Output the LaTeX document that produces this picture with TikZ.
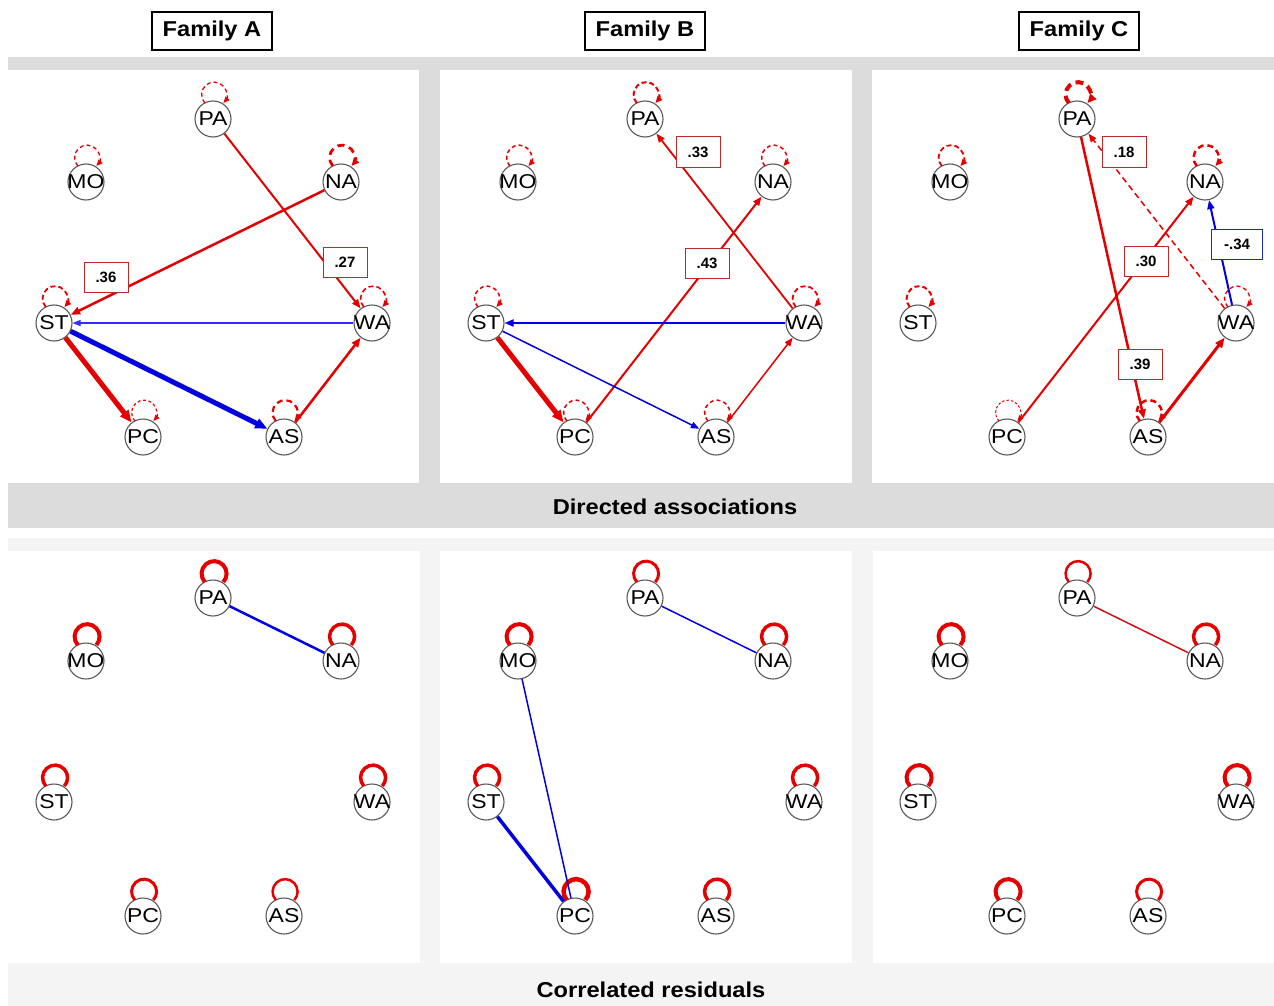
\documentclass[tikz,border=0pt]{standalone}
\usepackage{fontspec}
\setmainfont{Liberation Sans}
\usetikzlibrary{arrows.meta}
\definecolor{ered}{RGB}{228,0,0}
\definecolor{eblue}{RGB}{0,0,225}
\definecolor{lblue}{RGB}{45,45,255}
\definecolor{labred}{RGB}{190,40,40}
\definecolor{labblue}{RGB}{30,40,190}
\definecolor{topgray}{RGB}{220,220,220}
\definecolor{botgray}{RGB}{244,244,244}
\definecolor{cired}{RGB}{200,20,20}
\newcommand{\vlab}[1]{\makebox[0pt]{\scalebox{1.15}[1]{#1}}}
\newcommand{\wtxt}[1]{\scalebox{1.1}[1]{#1}}
\newcommand{\mknodes}[3]{%
  \begin{scope}[shift={(#2,#3)}]
    \node[vnode] (#1PA) at (205,-49) {\vlab{PA}};
    \node[vnode] (#1MO) at (78,-112) {\vlab{MO}};
    \node[vnode] (#1NA) at (333,-112) {\vlab{NA}};
    \node[vnode] (#1ST) at (46,-253) {\vlab{ST}};
    \node[vnode] (#1WA) at (364,-253) {\vlab{WA}};
    \node[vnode] (#1PC) at (135,-367) {\vlab{PC}};
    \node[vnode] (#1AS) at (276,-367) {\vlab{AS}};
  \end{scope}}
% dashed self-loop with arrow (top panels)
\newcommand{\myTL}[3]{\draw[ered, line width=#2, dash pattern=#3, -{Triangle[length=5pt 1,width=4pt 1]}]
  ([shift={(-8.2,16.0)}]#1.center) arc[start angle=222, end angle=-42, radius=12.5];}
% solid self-loop (bottom panels)
\newcommand{\myBL}[2]{\draw[ered, line width=#2]
  ([shift={(-8.2,16.0)}]#1.center) arc[start angle=222, end angle=-42, radius=12.5];}
\tikzset{
  vnode/.style={circle, draw=black!65, line width=1.1pt, fill=white, minimum size=36pt,
    inner sep=0pt, font=\fontsize{20}{20}\selectfont},
  darr/.style={line width=#1, -{Triangle[length=7pt 1, width=5pt 1]}},
  lab/.style={draw=labred, fill=white, line width=1pt, minimum width=44pt, minimum height=30pt,
    inner sep=0pt, font=\fontsize{15}{15}\selectfont\bfseries},
  labb/.style={lab, draw=labblue, minimum width=51pt},
  titlebox/.style={draw=black, fill=white, line width=1.3pt, minimum width=120pt, minimum height=38pt,
    inner sep=0pt, font=\fontsize{21.5}{21.5}\selectfont\bfseries},
  sect/.style={font=\fontsize{21.5}{21.5}\selectfont\bfseries, inner sep=0pt},
}
\begin{document}
\begin{tikzpicture}[x=1pt,y=1pt]
\useasboundingbox (0,0) rectangle (1274,-1006);
\fill[white] (0,0) rectangle (1274,-1006);
% backgrounds
\fill[topgray] (8,-57) rectangle (1274,-528);
\fill[white] (8,-70) rectangle (419,-483);
\fill[white] (440,-70) rectangle (852,-483);
\fill[white] (872,-70) rectangle (1274,-483);
\fill[botgray] (8,-538) rectangle (1274,-1006);
\fill[white] (8,-551) rectangle (420,-963);
\fill[white] (440,-551) rectangle (852,-963);
\fill[white] (873,-551) rectangle (1274,-963);
% titles
\node[titlebox] (tA) at (212,-31) {\wtxt{Family A}};
\node[titlebox] (tB) at (645,-31) {\wtxt{Family B}};
\node[titlebox] (tC) at (1079,-31) {\wtxt{Family C}};
\node[sect] (s1) at (675,-507) {\wtxt{Directed associations}};
\node[sect] (s2) at (651,-990) {\wtxt{Correlated residuals}};
% nodes
\mknodes{a}{8}{-70}
\mknodes{b}{440}{-70}
\mknodes{c}{872}{-70}
\mknodes{d}{8}{-549}
\mknodes{e}{440}{-549}
\mknodes{f}{872}{-549}
% ---------- top panel A ----------
\myTL{aPA}{1.3pt}{on 4pt off 3pt}
\myTL{aMO}{1.3pt}{on 4pt off 3pt}
\myTL{aNA}{2.8pt}{on 7pt off 5pt}
\myTL{aST}{1.8pt}{on 5pt off 3pt}
\myTL{aWA}{1.6pt}{on 5pt off 3pt}
\myTL{aPC}{1.2pt}{on 3pt off 2.5pt}
\myTL{aAS}{2.2pt}{on 6pt off 4pt}
\draw[ered, darr=2pt] (aPA) -- (aWA);
\draw[ered, darr=2.5pt] (aNA) -- (aST);
\draw[lblue, darr=1.1pt] (aWA) -- (aST);
\draw[eblue, darr=5pt] (aST) -- (aAS);
\draw[ered, darr=5pt] (aST) -- (aPC);
\draw[ered, darr=2.5pt] (aAS) -- (aWA);
\node[lab] (la1) at (345,-262) {.27};
\node[lab] (la2) at (106,-277) {.36};
% ---------- top panel B ----------
\myTL{bPA}{2pt}{on 5pt off 3pt}
\myTL{bMO}{1.5pt}{on 4pt off 3pt}
\myTL{bNA}{1.5pt}{on 4pt off 3pt}
\myTL{bST}{1.5pt}{on 4pt off 3pt}
\myTL{bWA}{1.8pt}{on 5pt off 3pt}
\myTL{bPC}{1.5pt}{on 4pt off 3pt}
\myTL{bAS}{1.5pt}{on 4pt off 3pt}
\draw[ered, darr=1.8pt] (bWA) -- (bPA);
\draw[ered, darr=2pt] (bPC) -- (bNA);
\draw[eblue, darr=2pt] (bWA) -- (bST);
\draw[eblue, darr=1.5pt] (bST) -- (bAS);
\draw[ered, darr=5pt] (bST) -- (bPC);
\draw[ered, darr=1.5pt] (bAS) -- (bWA);
\node[lab] (lb1) at (698,-152) {.33};
\node[lab] (lb2) at (707,-263) {.43};
% ---------- top panel C ----------
\myTL{cPA}{4pt}{on 8pt off 5pt}
\myTL{cMO}{1.8pt}{on 5pt off 3pt}
\myTL{cNA}{2.5pt}{on 6pt off 4pt}
\myTL{cST}{2pt}{on 5pt off 3pt}
\myTL{cWA}{1.3pt}{on 4pt off 3pt}
\myTL{cPC}{1pt}{on 2.5pt off 2pt}
\myTL{cAS}{2.5pt}{on 6pt off 4pt}
\draw[ered, darr=2.5pt] (cPA) -- (cAS);
\draw[ered, darr=1.5pt, dash pattern=on 6pt off 4pt] (cWA) -- (cPA);
\draw[ered, darr=2pt] (cPC) -- (cNA);
\draw[eblue, darr=2pt] (cWA) -- (cNA);
\draw[ered, darr=3pt] (cAS) -- (cWA);
\node[lab] (lc1) at (1124,-152) {.18};
\node[lab] (lc2) at (1146,-261) {.30};
\node[lab] (lc3) at (1140,-364) {.39};
\node[labb] (lc4) at (1237,-244) {-.34};
% ---------- bottom panel A ----------
\myBL{dPA}{4pt}\myBL{dMO}{4pt}\myBL{dNA}{3.5pt}\myBL{dST}{3.5pt}
\myBL{dWA}{3.5pt}\myBL{dPC}{3pt}\myBL{dAS}{2.5pt}
\draw[eblue, line width=2.5pt] (dPA) -- (dNA);
% ---------- bottom panel B ----------
\myBL{ePA}{3pt}\myBL{eMO}{4pt}\myBL{eNA}{3.5pt}\myBL{eST}{3.5pt}
\myBL{eWA}{3.5pt}\myBL{ePC}{4.5pt}\myBL{eAS}{3.5pt}
\draw[eblue, line width=1.5pt] (ePA) -- (eNA);
\draw[eblue, line width=1.5pt] (eMO) -- (ePC);
\draw[eblue, line width=3.5pt] (eST) -- (ePC);
% ---------- bottom panel C ----------
\myBL{fPA}{2.5pt}\myBL{fMO}{4pt}\myBL{fNA}{3.5pt}\myBL{fST}{4pt}
\myBL{fWA}{4pt}\myBL{fPC}{4pt}\myBL{fAS}{3pt}
\draw[cired, line width=1.5pt] (fPA) -- (fNA);
\end{tikzpicture}
\end{document}
